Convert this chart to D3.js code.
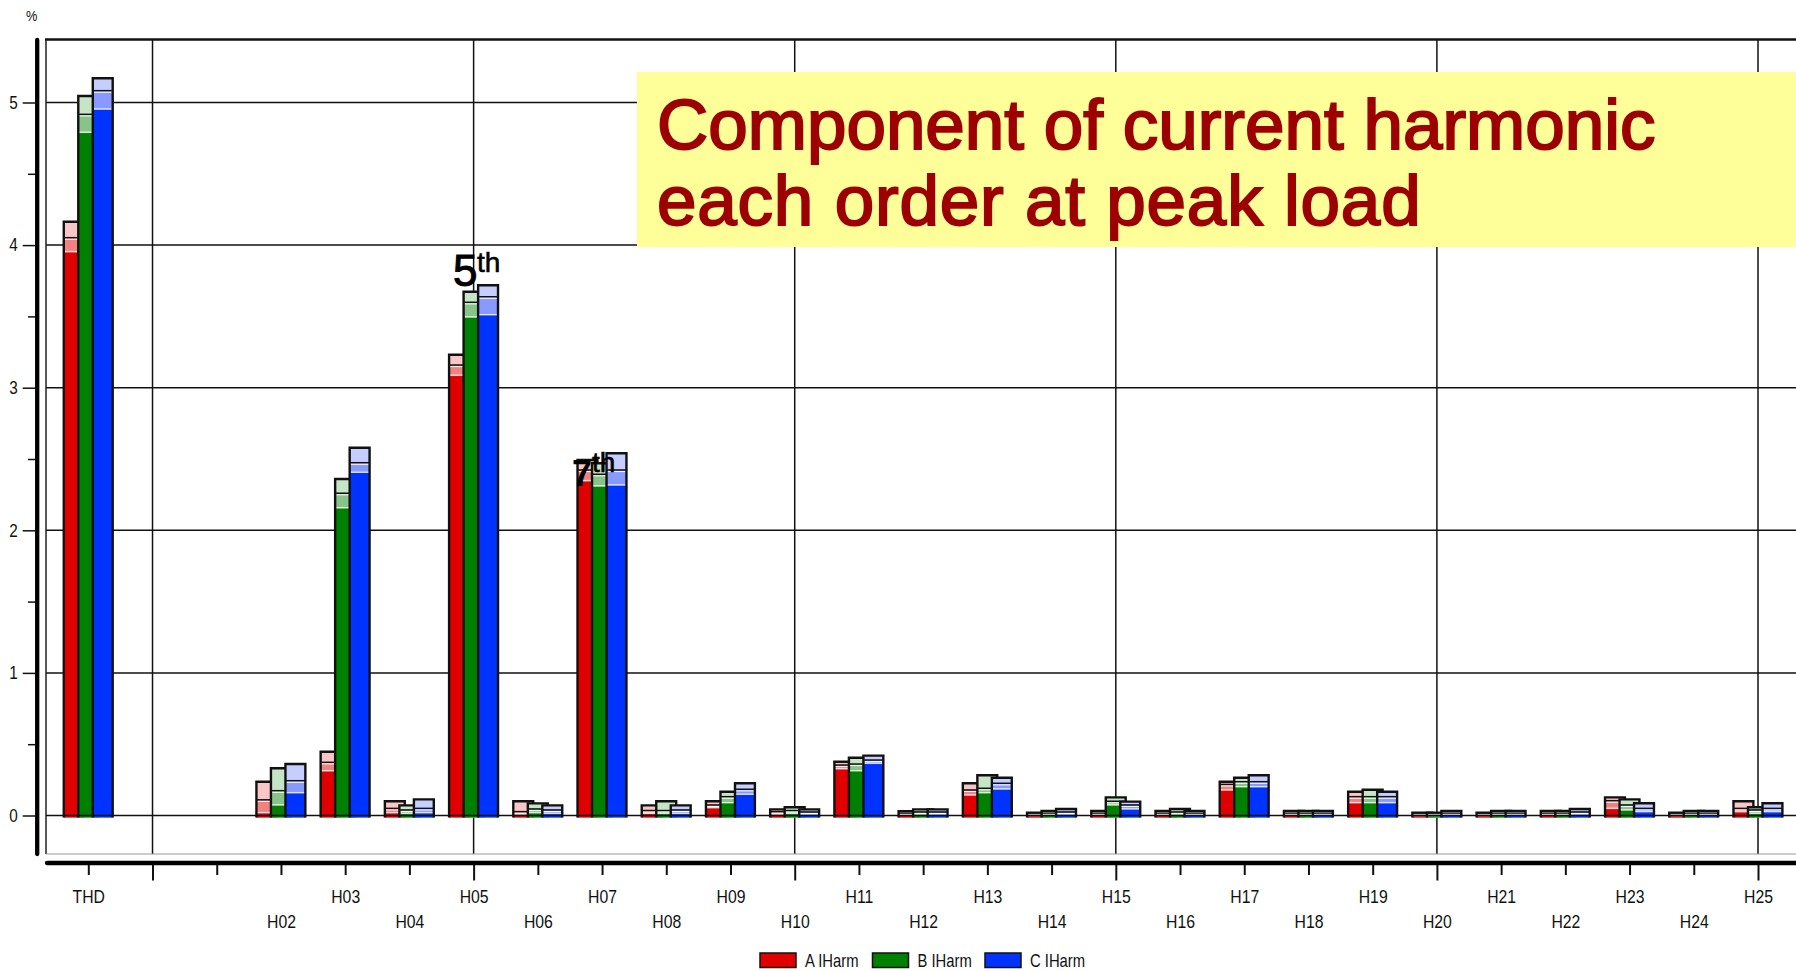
<!DOCTYPE html>
<html>
<head>
<style>
  body { margin: 0; background: #fff; }
  svg { display: block; }
</style>
</head>
<body>
<svg id="chart" width="1796" height="971"></svg>
<script src="https://cdnjs.cloudflare.com/ajax/libs/d3/7.8.5/d3.min.js"></script>
<script>
// categories along the x axis (THD sits two slots left of H02)
const categories = ["THD", "H02", "H03", "H04", "H05", "H06", "H07", "H08", "H09", "H10", "H11", "H12", "H13",
  "H14", "H15", "H16", "H17", "H18", "H19", "H20", "H21", "H22", "H23", "H24", "H25"];

// phase A (red): low / mid / high level of each bar, in %
const aLow  = [3.954, 0.02, 0.314, 0.02, 3.087, 0.01, 2.348, 0.015, 0.055, 0.01, 0.328, 0.007, 0.144, 0.005, 0.007, 0.007, 0.179, 0.007, 0.09, 0.005, 0.005, 0.007, 0.05, 0.005, 0.027];
const aMid  = [4.052, 0.11, 0.373, 0.05, 3.159, 0.027, 2.423, 0.035, 0.074, 0.027, 0.354, 0.015, 0.179, 0.01, 0.015, 0.015, 0.218, 0.015, 0.132, 0.01, 0.01, 0.015, 0.104, 0.01, 0.05];
const aHigh = [4.164, 0.237, 0.447, 0.10, 3.231, 0.10, 2.493, 0.071, 0.10, 0.043, 0.377, 0.03, 0.226, 0.02, 0.032, 0.032, 0.237, 0.032, 0.167, 0.02, 0.02, 0.032, 0.127, 0.02, 0.10];

// phase B (green)
const bLow  = [4.791, 0.074, 2.158, 0.015, 3.496, 0.02, 2.311, 0.015, 0.09, 0.015, 0.314, 0.01, 0.16, 0.007, 0.074, 0.01, 0.202, 0.007, 0.09, 0.005, 0.007, 0.007, 0.039, 0.007, 0.015];
const bMid  = [4.917, 0.174, 2.26, 0.039, 3.599, 0.046, 2.393, 0.035, 0.132, 0.035, 0.361, 0.025, 0.191, 0.015, 0.10, 0.025, 0.237, 0.015, 0.132, 0.01, 0.015, 0.015, 0.074, 0.015, 0.039];
const bHigh = [5.046, 0.331, 2.36, 0.071, 3.673, 0.085, 2.47, 0.10, 0.167, 0.058, 0.405, 0.043, 0.282, 0.032, 0.127, 0.046, 0.265, 0.032, 0.181, 0.02, 0.032, 0.032, 0.113, 0.032, 0.058];

// phase C (blue)
const cLow  = [4.954, 0.16, 2.407, 0.02, 3.512, 0.015, 2.318, 0.015, 0.149, 0.01, 0.366, 0.01, 0.186, 0.01, 0.046, 0.007, 0.202, 0.007, 0.09, 0.007, 0.007, 0.01, 0.027, 0.007, 0.027];
const cMid  = [5.083, 0.244, 2.474, 0.05, 3.638, 0.039, 2.423, 0.039, 0.184, 0.025, 0.389, 0.025, 0.226, 0.025, 0.074, 0.015, 0.237, 0.015, 0.132, 0.015, 0.015, 0.025, 0.05, 0.015, 0.05];
const cHigh = [5.17, 0.361, 2.579, 0.113, 3.718, 0.071, 2.54, 0.071, 0.226, 0.043, 0.42, 0.043, 0.265, 0.046, 0.097, 0.032, 0.282, 0.032, 0.167, 0.032, 0.032, 0.046, 0.086, 0.032, 0.086];

const yTicks = [0, 1, 2, 3, 4, 5];
const seriesNames = ["A IHarm", "B IHarm", "C IHarm"];

const series = [
  { name: seriesNames[0], low: aLow, mid: aMid, high: aHigh, colors: ["#e00000", "#f08282", "#f8c6c6"] },
  { name: seriesNames[1], low: bLow, mid: bMid, high: bHigh, colors: ["#008000", "#88c488", "#c6e4c6"] },
  { name: seriesNames[2], low: cLow, mid: cMid, high: cHigh, colors: ["#0033ff", "#8899ff", "#c6ceff"] }
];

const font = "'Liberation Sans', Arial, sans-serif";
const order = c => c === "THD" ? -1 : +c.slice(1);

// squeeze text horizontally, the source uses a narrow face
function condense(sel, k) {
  sel.each(function () {
    const len = this.getComputedTextLength();
    if (len > 0) d3.select(this).attr("textLength", len * k).attr("lengthAdjust", "spacingAndGlyphs");
  });
}

const svg = d3.select("#chart");
const plot = { left: 46, right: 1796, top: 39, bottom: 854 };

const x = d3.scaleLinear().domain([-1, 25]).range([88.3, 1758]);
const y = d3.scaleLinear().domain([0, 5]).range([815.5, 102.5]);

// grid
svg.append("g").selectAll("line").data(d3.range(0, 26, 5)).join("line")
  .attr("x1", d => x(d)).attr("x2", d => x(d))
  .attr("y1", plot.top).attr("y2", plot.bottom)
  .attr("stroke", "#111").attr("stroke-width", 1.5);
svg.append("g").selectAll("line").data(yTicks.filter(d => d > 0)).join("line")
  .attr("x1", plot.left).attr("x2", plot.right)
  .attr("y1", d => y(d)).attr("y2", d => y(d))
  .attr("stroke", "#111").attr("stroke-width", 1.5);

// frame
svg.append("line").attr("x1", plot.left).attr("x2", plot.left).attr("y1", plot.top).attr("y2", plot.bottom)
  .attr("stroke", "#222").attr("stroke-width", 1.5);
svg.append("line").attr("x1", plot.left).attr("x2", plot.right).attr("y1", plot.bottom).attr("y2", plot.bottom)
  .attr("stroke", "#999").attr("stroke-width", 1);
svg.append("line").attr("x1", plot.left - 1).attr("x2", plot.right).attr("y1", plot.top + 0.5).attr("y2", plot.top + 0.5)
  .attr("stroke", "#111").attr("stroke-width", 2.6);

// title box
svg.append("rect").attr("x", 637).attr("y", 72).attr("width", 1796 - 637).attr("height", 175).attr("fill", "#ffff99");
const title = svg.append("text").attr("font-family", font)
  .attr("font-size", 71).attr("fill", "#9c0000")
  .attr("stroke", "#9c0000").attr("stroke-width", 2);
title.append("tspan").attr("x", 657).attr("y", 149).text("Component of current harmonic");
title.append("tspan").attr("x", 657).attr("y", 225).attr("letter-spacing", 0.8).text("each order at peak load");

// bars
const step = x(1) - x(0);
const barW = step * 0.31;
const barStep = step * 0.226;
const base = y(0) + 2;

series.forEach((s, si) => {
  const g = svg.append("g");
  categories.forEach((c, i) => {
    const left = x(order(c)) - step * 0.382 + si * barStep;
    const yl = y(s.low[i]), ym = y(s.mid[i]), yh = y(s.high[i]);
    g.append("rect").attr("x", left).attr("y", yh).attr("width", barW).attr("height", base - yh).attr("fill", s.colors[2]);
    g.append("rect").attr("x", left).attr("y", ym).attr("width", barW).attr("height", base - ym).attr("fill", s.colors[1]);
    g.append("rect").attr("x", left).attr("y", yl).attr("width", barW).attr("height", base - yl).attr("fill", s.colors[0]);
    g.append("line").attr("x1", left).attr("x2", left + barW).attr("y1", ym).attr("y2", ym)
      .attr("stroke", "#111").attr("stroke-width", 1.5);
    g.append("line").attr("x1", left).attr("x2", left + barW).attr("y1", ym + 1.6).attr("y2", ym + 1.6)
      .attr("stroke", "#fff").attr("stroke-width", 1);
    g.append("line").attr("x1", left).attr("x2", left + barW).attr("y1", yl).attr("y2", yl)
      .attr("stroke", "rgba(255,255,255,0.8)").attr("stroke-width", 1.5);
    g.append("path").attr("d", `M${left},${base}V${yh}H${left + barW}V${base}`)
      .attr("fill", "none").attr("stroke", "#111").attr("stroke-width", 2.4);
  });
});

// zero line over the bars
svg.append("line").attr("x1", plot.left).attr("x2", plot.right).attr("y1", y(0)).attr("y2", y(0))
  .attr("stroke", "#111").attr("stroke-width", 1.5);

// thick axis lines
svg.append("line").attr("x1", 37.2).attr("x2", 37.2).attr("y1", plot.top + 1).attr("y2", plot.bottom)
  .attr("stroke", "#000").attr("stroke-width", 4.3).attr("stroke-linecap", "round");
svg.append("line").attr("x1", plot.left + 1).attr("x2", plot.right + 10).attr("y1", 863).attr("y2", 863)
  .attr("stroke", "#000").attr("stroke-width", 4.3).attr("stroke-linecap", "round");

// y axis
const yAxis = svg.append("g").attr("transform", "translate(35,0)")
  .call(d3.axisLeft(y).tickValues(yTicks).tickSize(12.3).tickPadding(5).tickFormat(d3.format("d")));
yAxis.select(".domain").remove();
yAxis.selectAll("line").attr("stroke", "#111").attr("stroke-width", 1.5);
yAxis.selectAll("text").attr("font-family", font).attr("font-size", 18).attr("fill", "#111").call(condense, 0.85);
const yMinor = svg.append("g").attr("transform", "translate(35,0)")
  .call(d3.axisLeft(y).tickValues(yTicks.slice(0, -1).map(d => d + 0.5)).tickSize(7).tickFormat(""));
yMinor.select(".domain").remove();
yMinor.selectAll("line").attr("stroke", "#111").attr("stroke-width", 1.5);

svg.append("text").attr("x", 26).attr("y", 20.5).attr("font-family", font).attr("font-size", 15)
  .attr("fill", "#111").text("%").call(condense, 0.85);

// x axis
const labelFor = n => {
  const c = categories.find(c => order(c) === n);
  return c || "";
};
const xAxis = svg.append("g").attr("transform", "translate(0,865)")
  .call(d3.axisBottom(x).tickValues(d3.range(-1, 26)).tickSize(10).tickFormat(labelFor));
xAxis.select(".domain").remove();
xAxis.selectAll("line").attr("stroke", "#111").attr("stroke-width", 2)
  .attr("y2", d => d % 5 === 0 ? 15.5 : 10);
xAxis.selectAll("text").attr("dy", null).attr("font-family", font).attr("font-size", 19).attr("fill", "#111")
  .attr("y", d => (d === -1 || d % 2 === 1) ? 38 : 62.5)
  .call(condense, 0.83);

// annotations
const ann = svg.append("g").attr("font-family", font).attr("fill", "#000");
ann.append("text").attr("x", 453).attr("y", 286).attr("font-size", 44)
  .attr("stroke", "#000").attr("stroke-width", 1).text("5");
ann.append("text").attr("x", 477).attr("y", 272).attr("font-size", 28)
  .attr("stroke", "#000").attr("stroke-width", 0.6).text("th");
ann.append("text").attr("x", 572).attr("y", 486).attr("font-size", 36).attr("font-weight", "bold").text("7");
ann.append("text").attr("x", 592).attr("y", 472).attr("font-size", 28)
  .attr("stroke", "#000").attr("stroke-width", 0.6).text("th");

// legend
const legend = svg.append("g").selectAll("g").data(series).join("g")
  .attr("transform", (d, i) => `translate(${760 + i * 112.5},953)`);
legend.append("rect").attr("width", 36).attr("height", 14.5)
  .attr("fill", d => d.colors[0]).attr("stroke", "#111").attr("stroke-width", 1.5);
legend.append("text").attr("x", 45).attr("y", 14).attr("font-family", font).attr("font-size", 18.5)
  .attr("fill", "#111").text(d => d.name).call(condense, 0.8);
</script>
</body>
</html>
